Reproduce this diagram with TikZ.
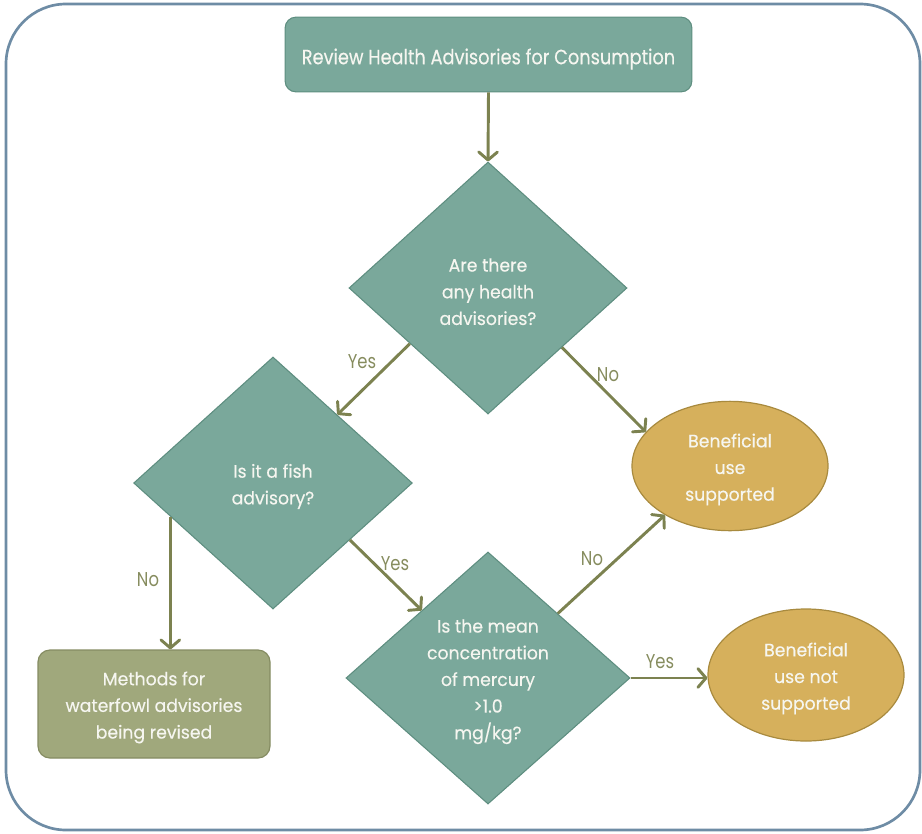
\documentclass[tikz,border=0pt]{standalone}
\usepackage{fontspec}
\setmainfont{Poppins}[FakeStretch=0.96, FakeBold=0.3]
\newfontfamily\headfont{Poppins}[FakeStretch=0.86, FakeBold=0.3]
\newfontfamily\lblfont{Poppins}[FakeStretch=0.82]
\usetikzlibrary{shapes.geometric,arrows.meta,calc}

\definecolor{frameblue}{HTML}{6E8CA5}
\definecolor{tealfill}{HTML}{7AA89B}
\definecolor{tealedge}{HTML}{5E8E80}
\definecolor{goldfill}{HTML}{D6B05C}
\definecolor{goldedge}{HTML}{A88A3E}
\definecolor{olivefill}{HTML}{A0A87C}
\definecolor{oliveedge}{HTML}{858C62}
\definecolor{arrowolive}{HTML}{7C8250}
\definecolor{labelolive}{HTML}{868C5E}
\definecolor{paletext}{HTML}{F6F6F0}

% invisible strut that lowers multi-line text a little inside its shape
\newcommand\lowstrut{\rule{0pt}{15.5pt}}

\tikzset{
  boxtext/.style={text=paletext, align=center,
    font=\fontsize{13.5pt}{20pt}\selectfont},
  topbox/.style={text=paletext, draw=tealedge, fill=tealfill, line width=0.8pt,
    rounded corners=8pt, minimum width=305pt, minimum height=56pt,
    inner sep=0pt, text height=18.6pt, text depth=4pt,
    font=\headfont\fontsize{15.5pt}{19.5pt}\selectfont},
  decision/.style={boxtext, shape=diamond, draw=tealedge, fill=tealfill,
    line width=0.8pt, inner sep=0pt, aspect=1.1},
  outcome/.style={boxtext, shape=ellipse, draw=goldedge, fill=goldfill,
    line width=0.9pt, inner sep=0pt, minimum width=147pt},
  pending/.style={boxtext, draw=oliveedge, fill=olivefill, line width=0.9pt,
    rounded corners=9pt, minimum width=174pt, minimum height=81pt, inner sep=0pt},
  flow/.style={draw=arrowolive, line width=2.2pt,
    -{Straight Barb[round,length=6pt,width=14pt]}},
  lbl/.style={text=labelolive, font=\lblfont\fontsize{15pt}{18pt}\selectfont,
    inner sep=0pt}
}

\begin{document}
\begin{tikzpicture}[x=0.75pt,y=-0.75pt]
  \useasboundingbox (0,0) rectangle (922,833);

  % outer frame
  \draw[frameblue, line width=2pt, rounded corners=45pt] (6,4) rectangle (920,830);

  % shapes
  \node[topbox] (review) at (488.5,54.5) {Review Health Advisories for Consumption};
  \node[decision, minimum width=208.5pt, minimum height=189pt] (d1) at (488,288)
    {\lowstrut Are there\\any health\\advisories?};
  \node[decision, minimum width=209pt, minimum height=189pt] (d2) at (273,483)
    {\lowstrut Is it a fish\\advisory?};
  \node[decision, minimum width=213pt, minimum height=189pt] (d3) at (488,678)
    {\lowstrut Is the mean\\concentration\\of mercury\\>1.0\\mg/kg?};
  \node[outcome, minimum height=97pt] (e1) at (730,466)
    {\lowstrut Beneficial\\use\\supported};
  \node[outcome, minimum height=99pt] (e2) at (806,675)
    {\lowstrut Beneficial\\use not\\supported};
  \node[pending] (meth) at (154,704)
    {\lowstrut Methods for\\waterfowl advisories\\being revised};

  % connector end points on the diamond edges
  \coordinate (y1s) at ($(d1.west)!0.44!(d1.south)$);
  \coordinate (y1e) at ($(d2.north)!0.46!(d2.east)$);
  \coordinate (n1s) at ($(d1.east)!0.47!(d1.south)$);
  \coordinate (n2s) at ($(d2.west)!0.266!(d2.south)$);
  \coordinate (y2s) at ($(d2.east)!0.45!(d2.south)$);
  \coordinate (y2e) at ($(d3.north)!0.465!(d3.west)$);
  \coordinate (n3s) at ($(d3.north)!0.49!(d3.east)$);

  % connectors
  \draw[flow] (review.south) -- (d1.north);
  \draw[flow] (y1s) -- (y1e);
  \draw[flow] (n1s) -- (e1.158);
  \draw[flow] (n2s) -- (n2s |- meth.north);
  \draw[flow] (y2s) -- (y2e);
  \draw[flow] (n3s) -- (e1.217);
  \draw[flow] (d3.east) -- (d3.east -| e2.west);

  % branch labels
  \node[lbl] (ly1) at (362,362) {Yes};
  \node[lbl] (ln1) at (608,375) {No};
  \node[lbl] (ln2) at (148,580) {No};
  \node[lbl] (ly2) at (395,564) {Yes};
  \node[lbl] (ln3) at (592,559) {No};
  \node[lbl] (ly3) at (660,662) {Yes};
\end{tikzpicture}
\end{document}
